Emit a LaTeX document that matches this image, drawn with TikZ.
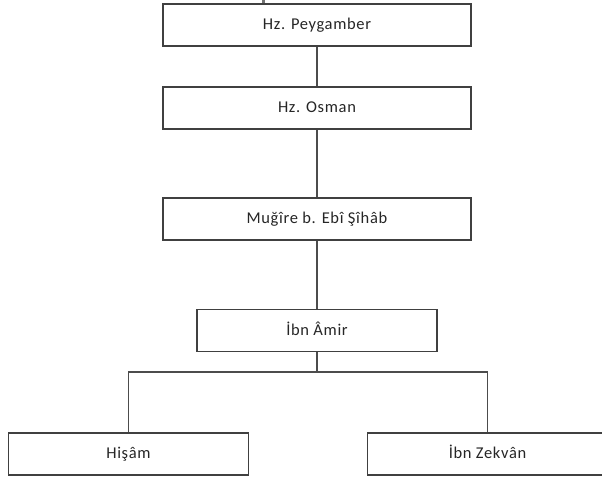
\documentclass[tikz,border=0pt]{standalone}
\usepackage{fontspec}
\setmainfont{Carlito}
\newfontfamily\kutufont[LetterSpace=4]{Carlito}
\usepackage{tikz}
\usetikzlibrary{positioning}
\tikzset{
  kisi/.style={draw=black!75, line width=1.2pt, fill=white, text=black!85,
    font=\kutufont\fontsize{16.5}{18}\selectfont, minimum height=42pt, inner sep=0pt,
    text height=12pt, text depth=3pt},
  genis/.style={kisi, minimum width=308pt},
  dar/.style={kisi, minimum width=240pt},
  bag/.style={draw=black!70, line width=1.2pt}
}

\begin{document}
\begin{tikzpicture}[x=1pt,y=-1pt]
            \useasboundingbox (0,0) rectangle (602,482);
            \node[genis] (peygamber) at (317,25) {Hz. Peygamber};
            \node[genis] (osman) at (317,108) {Hz. Osman};
            \node[genis] (mugire) at (317,219) {Muğîre b. Ebî Şîhâb};
            \node[dar] (ibnamir) at (317,330.5) {İbn Âmir};
            \node[dar] (hisam) at (128.5,454) {Hişâm};
            \node[dar] (zekvan) at (487.5,454) {İbn Zekvân};
            \coordinate (ayrim) at (317,372);
            \fill[black!55] (262,0) rectangle (265,3);
            \draw[bag] (peygamber) -- (osman);
            \draw[bag] (osman) -- (mugire);
            \draw[bag] (mugire) -- (ibnamir);
            \draw[bag] (ibnamir) -- (ayrim);
            \draw[bag] (hisam.north) |- (ayrim) -| (zekvan.north);
        \end{tikzpicture}
\end{document}
